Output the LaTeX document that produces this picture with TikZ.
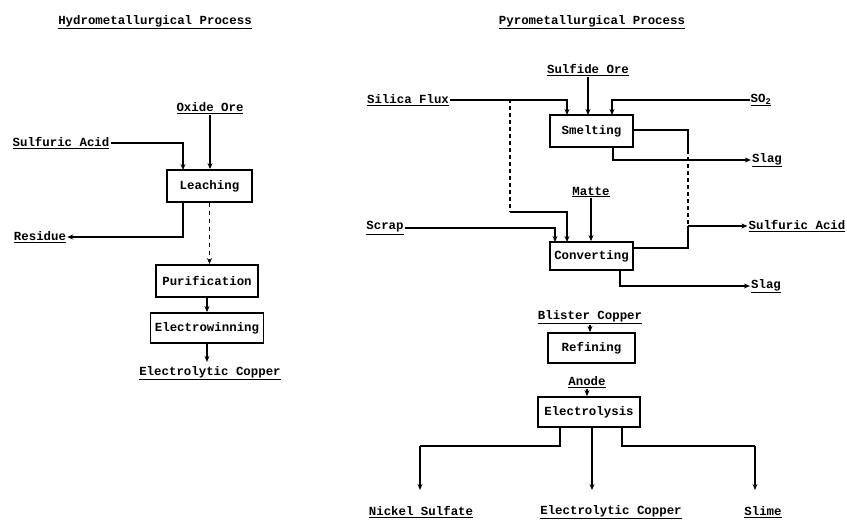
\documentclass[tikz,border=0pt]{standalone}
\usepackage{fontspec}
\setmonofont{Liberation Mono}
\usetikzlibrary{arrows.meta,calc}
\tikzset{
  txt/.style={font=\fontsize{12.4}{14}\selectfont\ttfamily\bfseries, inner sep=1pt},
  lbl/.style={txt},
  boxnode/.style={txt, draw, line width=1.8pt, inner sep=0pt},
  ln/.style={line width=1.4pt},
  arr/.style={ln, -{Stealth[length=6pt,width=5pt]}},
  brk/.style={ln, dash pattern=on 4pt off 3pt},
}
\newcommand{\ul}[1]{\underline{#1}}
\begin{document}
\begin{tikzpicture}[x=1pt,y=-1pt]
\useasboundingbox (0,0) rectangle (847,522);
% ---------------- Hydrometallurgical ----------------
\node[lbl] (htitle) at (155,22) {\ul{Hydrometallurgical Process}};
\node[lbl] (oxide) at (210,108) {\ul{Oxide Ore}};
\node[lbl] (sulf) at (61,143) {\ul{Sulfuric Acid}};
\node[boxnode, minimum width=85pt, minimum height=32pt] (leach) at (209.5,186) {Leaching};
\node[lbl] (residue) at (40,237) {\ul{Residue}};
\node[boxnode, minimum width=102pt, minimum height=32pt] (puri) at (207,281) {Purification};
\node[boxnode, minimum width=113pt, minimum height=30pt] (elw) at (207,328) {Electrowinning};
\node[lbl] (elcu) at (210,373) {\ul{Electrolytic Copper}};
\coordinate (lA) at (183,170);
\coordinate (lB) at (183,202);
\draw[arr] (oxide.south) -- (oxide.south |- leach.north);
\draw[arr] (sulf.east) -| (lA);
\draw[arr] (lB) |- (residue.east);
\draw[arr, dash pattern=on 4pt off 4pt] (leach.south) -- (leach.south |- puri.north);
\draw[arr] (puri.south) -- (puri.south |- elw.north);
\draw[arr] (elw.south) -- ($(elw.south)+(0,18)$) coordinate (lC);
% ---------------- Pyrometallurgical ----------------
\node[lbl] (ptitle) at (592,22) {\ul{Pyrometallurgical Process}};
\node[lbl] (sulfide) at (588,70) {\ul{Sulfide Ore}};
\node[lbl] (silica) at (408,100) {\ul{Silica Flux}};
\node[lbl] (so2) at (761,100) {\ul{SO\textsubscript{2}}};
\node[boxnode, minimum width=83pt, minimum height=32pt] (smelt) at (591.5,131) {Smelting};
\node[lbl] (slagA) at (767,160) {\ul{Slag}};
\node[lbl] (matte) at (591,192) {\ul{Matte}};
\node[lbl] (scrap) at (385,228) {\ul{Scrap}};
\node[lbl] (sacid) at (797,226) {\ul{Sulfuric Acid}};
\node[boxnode, minimum width=83pt, minimum height=28pt] (conv) at (591.5,256) {Converting};
\node[lbl] (slagB) at (766,286) {\ul{Slag}};
\node[lbl] (blister) at (590,317) {\ul{Blister Copper}};
\node[boxnode, minimum width=87pt, minimum height=30pt] (refin) at (591.5,348) {Refining};
\node[lbl] (anode) at (587,382) {\ul{Anode}};
\node[boxnode, minimum width=102pt, minimum height=30pt] (elys) at (589,412) {Electrolysis};
\node[lbl] (nick) at (421,512) {\ul{Nickel Sulfate}};
\node[lbl] (pcu) at (611,512) {\ul{Electrolytic Copper}};
\node[lbl] (slime) at (763,512) {\ul{Slime}};
% coordinates
\coordinate (sA) at (567,115);
\coordinate (sB) at (510,99);
\coordinate (sC) at (510,212);
\coordinate (cA) at (567,242);
\coordinate (sD) at (588,115);
\coordinate (sE) at (612,115);
\coordinate (sF) at (633,130);
\coordinate (gA) at (688,226);
\coordinate (cB) at (633,248);
\coordinate (sG) at (613,147);
\coordinate (cC) at (555,242);
\coordinate (cD) at (620,270);
\coordinate (eA) at (560,427);
\coordinate (eB) at (592,427);
\coordinate (eC) at (622,427);
\coordinate (jL) at (420,446);
\coordinate (jR) at (755,446);
\coordinate (tL) at (420,490);
\coordinate (tM) at (592,490);
\coordinate (tR) at (755,490);
% connectors
\draw[arr] (silica.east) -| (sA);
\draw[brk] (sB) -- (sC);
\draw[arr] (sC) -| (cA);
\draw[arr] (sulfide.south -| sD) -- (sD);
\draw[ln, {Stealth[length=6pt,width=5pt]}-] (sE) ++(0,-8) coordinate (sE2) (sE) |- (so2.west);
\draw[ln] (sF) -| (688,150);
\draw[brk] (688,150) -- (gA);
\draw[ln] (cB) -| (gA);
\draw[arr] (gA) -- (sacid.west);
\draw[arr] (sG) |- (slagA.west);
\draw[arr] (matte.south) -- (matte.south |- conv.north);
\draw[arr] (scrap.east) -| (cC);
\draw[arr] (cD) |- (slagB.west);
\draw[arr] (blister.south) -- (blister.south |- refin.north);
\draw[arr] (anode.south) -- (anode.south |- elys.north);
\draw[ln] (eA) |- (jL);
\draw[arr] (jL) -- (tL);
\draw[arr] (eB) -- (tM);
\draw[ln] (eC) |- (jR);
\draw[arr] (jR) -- (tR);
\end{tikzpicture}
\end{document}
